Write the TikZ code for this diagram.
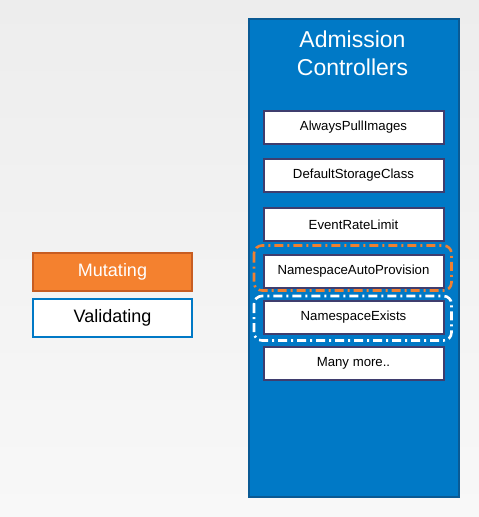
\documentclass[tikz,border=0pt]{standalone}
\usepackage{fontspec}
\setmainfont{Liberation Sans}
\definecolor{bgtop}{HTML}{EDEDED}
\definecolor{bgbot}{HTML}{F8F8F8}
\definecolor{acblue}{HTML}{0079C6}
\definecolor{acborder}{HTML}{0A5A94}
\definecolor{boxborder}{HTML}{3F3D6E}
\definecolor{mutfill}{HTML}{F4812F}
\definecolor{mutborder}{HTML}{C75D22}
\definecolor{dashorange}{HTML}{F08030}
\tikzset{
  ctrlbox/.style={draw=boxborder, line width=2pt, fill=white, minimum width=180pt, minimum height=33pt, inner sep=0pt, font=\fontsize{13.2}{15}\selectfont, anchor=north west},
  legendbox/.style={line width=2pt, minimum width=159pt, minimum height=38pt, inner sep=0pt, font=\fontsize{18}{20}\selectfont, anchor=north west},
  dashgroup/.style={line width=2.6pt, rounded corners=8pt, dash pattern=on 9pt off 4pt on 2pt off 4pt},
}
\begin{document}
\begin{tikzpicture}[x=1pt,y=-1pt]
\shade[top color=bgtop, bottom color=bgbot] (0,0) rectangle (479,517);
\useasboundingbox (0,0) rectangle (479,517);
% container
\node[draw=acborder, fill=acblue, line width=2pt, minimum width=210pt, minimum height=478pt, inner sep=0pt, anchor=north west] (container) at (248,18) {};
\node[text=white, align=center, font=\fontsize{23}{28}\selectfont, anchor=north] (title) at (352.5,27.5) {Admission\\Controllers};
% controller boxes
\node[ctrlbox] (api) at (262.5,109.5) {AlwaysPullImages};
\node[ctrlbox] (dsc) at (262.5,157.5) {DefaultStorageClass};
\node[ctrlbox] (erl) at (262.5,207) {EventRateLimit};
\node[ctrlbox] (nap) at (262.5,253.5) {NamespaceAutoProvision};
\node[ctrlbox] (nse) at (262.5,300) {NamespaceExists};
\node[ctrlbox] (mm) at (262.5,345.5) {Many more..};
% dashed groups
\draw[dashgroup, draw=dashorange] (254,245.5) rectangle (451.5,290.5);
\draw[dashgroup, draw=white] (254,296) rectangle (451.5,340.5);
% legend
\node[legendbox, draw=mutborder, fill=mutfill, text=white] (mut) at (32,251.5) {Mutating};
\node[legendbox, draw=acblue, fill=white, text=black] (val) at (32,298) {Validating};
\end{tikzpicture}
\end{document}
